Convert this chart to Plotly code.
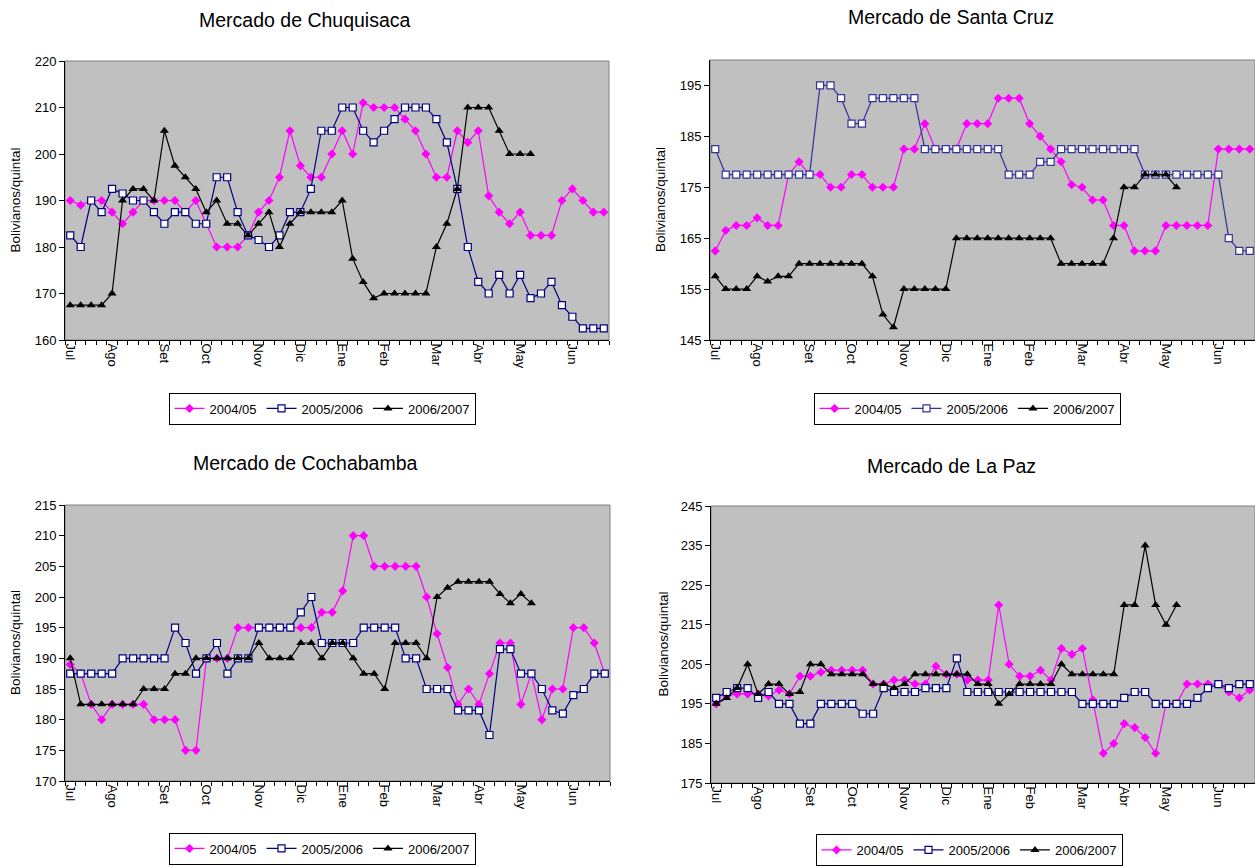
import plotly.graph_objects as go

# ---- weekly price series (Bolivianos per quintal), July to June ----
weeks = list(range(52))
month_weeks = [0, 4, 9, 13, 18, 22, 26, 30, 35, 39, 43, 48]
month_names = ["Jul", "Ago", "Set", "Oct", "Nov", "Dic", "Ene", "Feb", "Mar", "Abr", "May", "Jun"]
seasons = ["2004/05", "2005/2006", "2006/2007"]

chuq_0405 = [190, 189, 190, 190, 187.5, 185, 187.5, 190, 190, 190, 190, 187.5, 190, 185, 180, 180,
             180, 182.5, 187.5, 190, 195, 205, 197.5, 195, 195, 200, 205, 200, 211, 210, 210, 210,
             207.5, 205, 200, 195, 195, 205, 202.5, 205, 191, 187.5, 185, 187.5, 182.5, 182.5,
             182.5, 190, 192.5, 190, 187.5, 187.5]
chuq_0506 = [182.5, 180, 190, 187.5, 192.5, 191.5, 190, 190, 187.5, 185, 187.5, 187.5, 185, 185,
             195, 195, 187.5, 182.5, 181.5, 180, 182.5, 187.5, 187.5, 192.5, 205, 205, 210, 210,
             205, 202.5, 205, 207.5, 210, 210, 210, 207.5, 202.5, 192.5, 180, 172.5, 170, 174,
             170, 174, 169, 170, 172.5, 167.5, 165, 162.5, 162.5, 162.5]
chuq_0607 = [167.5, 167.5, 167.5, 167.5, 170, 190, 192.5, 192.5, 190, 205, 197.5, 195, 192.5,
             187.5, 190, 185, 185, 182.5, 185, 187.5, 180, 185, 187.5, 187.5, 187.5, 187.5, 190,
             177.5, 172.5, 169, 170, 170, 170, 170, 170, 180, 185, 192.5, 210, 210, 210, 205,
             200, 200, 200]

scz_0405 = [162.5, 166.5, 167.5, 167.5, 169, 167.5, 167.5, 177.5, 180, 177.5, 177.5, 175, 175,
            177.5, 177.5, 175, 175, 175, 182.5, 182.5, 187.5, 182.5, 182.5, 182.5, 187.5, 187.5,
            187.5, 192.5, 192.5, 192.5, 187.5, 185, 182.5, 180, 175.5, 175, 172.5, 172.5, 167.5,
            167.5, 162.5, 162.5, 162.5, 167.5, 167.5, 167.5, 167.5, 167.5, 182.5, 182.5, 182.5,
            182.5]
scz_0506 = [182.5, 177.5, 177.5, 177.5, 177.5, 177.5, 177.5, 177.5, 177.5, 177.5, 195, 195, 192.5,
            187.5, 187.5, 192.5, 192.5, 192.5, 192.5, 192.5, 182.5, 182.5, 182.5, 182.5, 182.5,
            182.5, 182.5, 182.5, 177.5, 177.5, 177.5, 180, 180, 182.5, 182.5, 182.5, 182.5, 182.5,
            182.5, 182.5, 182.5, 177.5, 177.5, 177.5, 177.5, 177.5, 177.5, 177.5, 177.5, 165,
            162.5, 162.5]
scz_0607 = [157.5, 155, 155, 155, 157.5, 156.5, 157.5, 157.5, 160, 160, 160, 160, 160, 160, 160,
            157.5, 150, 147.5, 155, 155, 155, 155, 155, 165, 165, 165, 165, 165, 165, 165, 165,
            165, 165, 160, 160, 160, 160, 160, 165, 175, 175, 177.5, 177.5, 177.5, 175]

cbba_0405 = [189, 187.5, 182.5, 180, 182.5, 182.5, 182.5, 182.5, 180, 180, 180, 175, 175, 190,
             190, 190, 195, 195, 195, 195, 195, 195, 195, 195, 197.5, 197.5, 201, 210, 210, 205,
             205, 205, 205, 205, 200, 194, 188.5, 182.5, 185, 182.5, 187.5, 192.5, 192.5, 182.5,
             187.5, 180, 185, 185, 195, 195, 192.5, 187.5]
cbba_0506 = [187.5, 187.5, 187.5, 187.5, 187.5, 190, 190, 190, 190, 190, 195, 192.5, 187.5, 190,
             192.5, 187.5, 190, 190, 195, 195, 195, 195, 197.5, 200, 192.5, 192.5, 192.5, 192.5,
             195, 195, 195, 195, 190, 190, 185, 185, 185, 181.5, 181.5, 181.5, 177.5, 191.5,
             191.5, 187.5, 187.5, 185, 181.5, 181, 184, 185, 187.5, 187.5]
cbba_0607 = [190, 182.5, 182.5, 182.5, 182.5, 182.5, 182.5, 185, 185, 185, 187.5, 187.5, 190, 190,
             190, 190, 190, 190, 192.5, 190, 190, 190, 192.5, 192.5, 190, 192.5, 192.5, 190,
             187.5, 187.5, 185, 192.5, 192.5, 192.5, 190, 200, 201.5, 202.5, 202.5, 202.5, 202.5,
             200.5, 199, 200.5, 199]

lpz_0405 = [195, 197, 197.5, 197.5, 197.5, 197, 198.5, 197.5, 202, 202, 203, 203.5, 203.5, 203.5,
            203.5, 200, 200, 201, 201, 200, 200, 204.5, 202.5, 202.5, 201, 201, 201, 220, 205,
            202, 202, 203.5, 201, 209, 207.5, 209, 196, 182.5, 185, 190, 189, 186.5, 182.5, 195,
            195, 200, 200, 200, 200, 198, 196.5, 198.5]
lpz_0506 = [196.5, 198, 199, 199, 196.5, 198, 195, 195, 190, 190, 195, 195, 195, 195, 192.5,
            192.5, 199, 198, 198, 198, 199, 199, 199, 206.5, 198, 198, 198, 198, 198, 198, 198,
            198, 198, 198, 198, 195, 195, 195, 195, 196.5, 198, 198, 195, 195, 195, 195, 196.5,
            199, 200, 199, 200, 200]
lpz_0607 = [195, 196.5, 199, 205, 197.5, 200, 200, 197.5, 198, 205, 205, 202.5, 202.5, 202.5,
            202.5, 200, 200, 199, 200, 202.5, 202.5, 202.5, 202.5, 202.5, 202.5, 200, 200, 195,
            197.5, 200, 200, 200, 200, 205, 202.5, 202.5, 202.5, 202.5, 202.5, 220, 220, 235, 220,
            215, 220]

# ---- page geometry (pixels) ----
W, H = 1255, 866
FONT = "Arial, 'Liberation Sans', sans-serif"

panels = [
    dict(name="Mercado de Chuquisaca", data=[chuq_0405, chuq_0506, chuq_0607],
         xpx=(65, 609), ypx=(61, 340), yrange=(160, 220), dtick=10,
         title_xy=(305, 20), ylab_x=15, leg_xy=(322, 408.5), blue="#000080"),
    dict(name="Mercado de Santa Cruz", data=[scz_0405, scz_0506, scz_0607],
         xpx=(710, 1255), ypx=(60, 340), yrange=(145, 200), dtick=10,
         title_xy=(951, 17), ylab_x=661, leg_xy=(967, 408.5), blue="#333399"),
    dict(name="Mercado de Cochabamba", data=[cbba_0405, cbba_0506, cbba_0607],
         xpx=(65, 610), ypx=(505, 781), yrange=(170, 215), dtick=5,
         title_xy=(305, 463), ylab_x=15, leg_xy=(322, 848.5), blue="#000080"),
    dict(name="Mercado de La Paz", data=[lpz_0405, lpz_0506, lpz_0607],
         xpx=(711, 1255), ypx=(506, 783), yrange=(175, 245), dtick=10,
         title_xy=(951, 466), ylab_x=663, leg_xy=(969, 850), blue="#000080"),
]

fig = go.Figure()
annotations = []
shapes = []
layout = {}

for k, p in enumerate(panels, start=1):
    sfx = "" if k == 1 else str(k)
    xname, yname = "x" + sfx, "y" + sfx
    legname = "legend" + sfx
    styles = [
        dict(line=dict(color="#FF00FF", width=1.2),
             marker=dict(symbol="diamond", size=7, color="#FF00FF")),
        dict(line=dict(color=p["blue"], width=1.2),
             marker=dict(symbol="square", size=7, color="white",
                         line=dict(color=p["blue"], width=1.2))),
        dict(line=dict(color="black", width=1.2),
             marker=dict(symbol="triangle-up", size=8, color="black")),
    ]
    for season, values, st in zip(seasons, p["data"], styles):
        fig.add_trace(go.Scatter(
            x=weeks[:len(values)], y=values, name=season, mode="lines+markers",
            line=st["line"], marker=st["marker"], xaxis=xname, yaxis=yname,
            legend=legname, showlegend=True, hoverinfo="x+y+name"))

    x0, x1 = p["xpx"]
    ytop, ybot = p["ypx"]
    layout["xaxis" + sfx] = dict(
        domain=[x0 / W, min(x1 / W, 1.0)], anchor=yname, range=[-0.5, 51.5],
        tickmode="array", tickvals=month_weeks, ticktext=month_names, tickangle=90,
        ticks="", showline=True, linecolor="black", linewidth=1, showgrid=False,
        zeroline=False, tickfont=dict(family=FONT, size=13, color="black"),
        minor=dict(ticks="outside", tickmode="linear", tick0=-0.5, dtick=1,
                   ticklen=4, tickcolor="black", tickwidth=1, showgrid=False),
        fixedrange=True)
    layout["yaxis" + sfx] = dict(
        domain=[1 - ybot / H, 1 - ytop / H], anchor=xname, range=list(p["yrange"]),
        tickmode="linear", tick0=p["yrange"][0], dtick=p["dtick"], ticks="outside",
        ticklen=5, tickcolor="black", showline=True, linecolor="black", linewidth=1,
        showgrid=False, zeroline=False,
        tickfont=dict(family=FONT, size=13, color="black"), fixedrange=True)
    layout[legname] = dict(
        orientation="h", x=p["leg_xy"][0] / W, y=1 - p["leg_xy"][1] / H,
        xanchor="center", yanchor="middle", bgcolor="white", bordercolor="black",
        borderwidth=1, font=dict(family=FONT, size=13, color="black"),
        itemwidth=30, tracegroupgap=0)

    # grey frame around the plotting area
    shapes.append(dict(type="rect", xref=xname + " domain", yref=yname + " domain",
                       x0=0, x1=1, y0=0, y1=1, line=dict(color="#808080", width=1),
                       layer="below"))
    annotations.append(dict(text=p["name"], x=p["title_xy"][0] / W,
                            y=1 - p["title_xy"][1] / H, xref="paper", yref="paper",
                            showarrow=False, xanchor="center", yanchor="middle",
                            font=dict(family=FONT, size=19.5, color="black")))
    annotations.append(dict(text="Bolivianos/quintal", x=p["ylab_x"] / W,
                            y=1 - (ytop + ybot) / 2 / H, xref="paper", yref="paper",
                            showarrow=False, textangle=-90, xanchor="center",
                            yanchor="middle",
                            font=dict(family=FONT, size=13.5, color="black")))

fig.update_layout(
    width=W, height=H, margin=dict(l=0, r=0, t=0, b=0, autoexpand=False),
    paper_bgcolor="white", plot_bgcolor="#C0C0C0",
    font=dict(family=FONT, size=13, color="black"),
    annotations=annotations, shapes=shapes, **layout)

fig.write_html("out.html")
